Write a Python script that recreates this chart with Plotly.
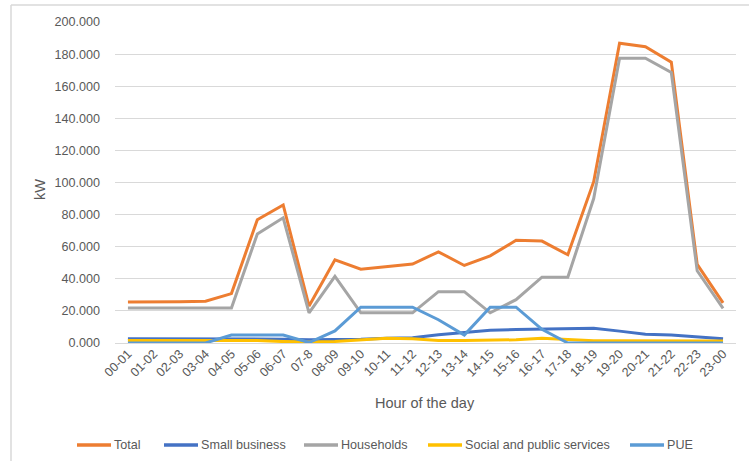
import plotly.graph_objects as go

hours = ["00-01", "01-02", "02-03", "03-04", "04-05", "05-06", "06-07", "07-8",
         "08-09", "09-10", "10-11", "11-12", "12-13", "13-14", "14-15", "15-16",
         "16-17", "17-18", "18-19", "19-20", "20-21", "21-22", "22-23", "23-00"]

total = [25.5, 25.5, 25.7, 26.0, 30.8, 76.8, 86.0, 23.0, 51.8, 46.0, 47.5, 49.2,
         56.8, 48.3, 54.3, 64.0, 63.5, 55.0, 100.5, 186.8, 184.6, 175.0, 49.0, 25.0]
small_business = [2.6, 2.6, 2.6, 2.6, 2.6, 2.6, 2.4, 2.0, 2.0, 2.4, 3.0, 3.2,
                  5.2, 6.6, 8.0, 8.4, 8.6, 8.8, 9.2, 7.4, 5.4, 5.0, 4.0, 2.6]
households = [21.8, 21.8, 21.8, 21.8, 21.8, 67.9, 78.0, 18.8, 41.5, 18.8, 18.8, 18.8,
              32.0, 32.0, 18.8, 27.0, 41.0, 41.0, 90.0, 177.4, 177.4, 168.5, 45.0, 21.6]
social = [1.5, 1.5, 1.5, 1.5, 1.5, 1.5, 0.9, 0.6, 1.0, 2.0, 3.0, 2.6,
          1.6, 1.6, 2.0, 2.0, 3.0, 2.2, 1.4, 1.4, 1.3, 1.3, 1.3, 1.3]
pue = [0.0, 0.0, 0.0, 0.0, 5.0, 5.0, 5.0, 0.3, 7.5, 22.3, 22.3, 22.3,
       14.5, 5.0, 22.3, 22.3, 8.5, 0.0, 0.0, 0.0, 0.0, 0.0, 0.0, 0.0]

series_names = ["Total", "Small business", "Households", "Social and public services", "PUE"]
series_values = [total, small_business, households, social, pue]
series_colors = ["#ED7D31", "#4472C4", "#A5A5A5", "#FFC000", "#5B9BD5"]
legend_key_left_px = [77, 164, 304, 428, 630]

FONT = "Liberation Sans"
TXT = "#595959"

L, R, T, B = 115, 13, 22, 118
W, H = 749, 461
pw, ph = W - L - R, H - T - B


def px_x(x):
    return (x - L) / pw


def px_y(y):
    return 1 - (y - T) / ph


fig = go.Figure()
for name, vals, col in zip(series_names, series_values, series_colors):
    fig.add_trace(go.Scatter(x=hours, y=vals, mode="lines", name=name,
                             line=dict(color=col, width=3), showlegend=False))

annotations = [
    dict(text="Hour of the day", xref="paper", yref="paper",
         x=px_x(425), y=px_y(403), xanchor="center", yanchor="middle",
         showarrow=False, font=dict(family=FONT, size=14.5, color=TXT)),
    dict(text="kW", xref="paper", yref="paper", textangle=-90,
         x=px_x(40), y=px_y(190), xanchor="center", yanchor="middle",
         showarrow=False, font=dict(family=FONT, size=14.5, color=TXT)),
]
shapes = [
    dict(type="line", xref="paper", yref="paper",
         x0=px_x(11), x1=px_x(11), y0=px_y(470), y1=px_y(5),
         line=dict(color="#D9D9D9", width=1.5)),
    dict(type="line", xref="paper", yref="paper",
         x0=px_x(11), x1=px_x(760), y0=px_y(5), y1=px_y(5),
         line=dict(color="#D9D9D9", width=1.5)),
]

ly = 445
for name, col, lx in zip(series_names, series_colors, legend_key_left_px):
    shapes.append(dict(type="line", xref="paper", yref="paper",
                       x0=px_x(lx), x1=px_x(lx + 34), y0=px_y(ly), y1=px_y(ly),
                       line=dict(color=col, width=3.5)))
    annotations.append(dict(text=name, xref="paper", yref="paper",
                            x=px_x(lx + 35), y=px_y(ly), xanchor="left", yanchor="middle",
                            showarrow=False, font=dict(family=FONT, size=12.6, color=TXT)))

fig.update_layout(
    width=W, height=H,
    margin=dict(l=L, r=R, t=T, b=B),
    paper_bgcolor="white", plot_bgcolor="white",
    font=dict(family=FONT, color=TXT, size=13),
    showlegend=False,
    xaxis=dict(type="category", range=[-0.5, 23.5], tickangle=-45,
               showgrid=False, showline=False, ticks="",
               tickfont=dict(family=FONT, size=12.6, color=TXT)),
    yaxis=dict(range=[0, 200], dtick=20, tickformat=".3f",
               showgrid=True, gridcolor="#D9D9D9", gridwidth=1,
               zeroline=True, zerolinecolor="#D9D9D9", zerolinewidth=1,
               showline=False, ticks="", ticklabelstandoff=14,
               tickfont=dict(family=FONT, size=12.6, color=TXT)),
    annotations=annotations,
    shapes=shapes,
)

fig.write_html("out.html")
